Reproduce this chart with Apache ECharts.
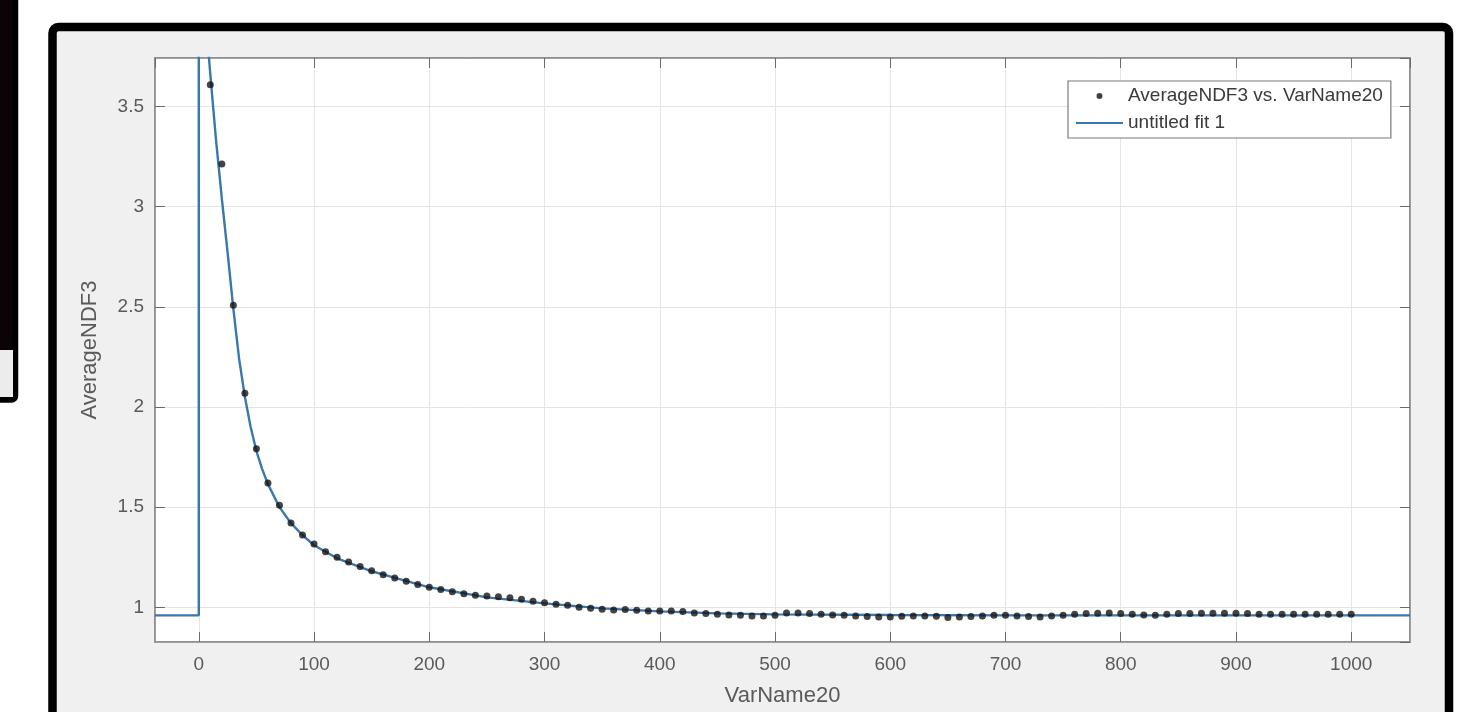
<!DOCTYPE html>
<html>
<head>
<meta charset="utf-8">
<script src="https://cdn.jsdelivr.net/npm/echarts@6/dist/echarts.min.js"></script>
<style>
  html, body { margin: 0; padding: 0; background: #ffffff; }
  #main { width: 1478px; height: 712px; }
</style>
</head>
<body>
<div id="main"></div>
<script>
// ---- data ----
const xLabelName = 'VarName20';
const yLabelName = 'AverageNDF3';
const scatterName = 'AverageNDF3 vs. VarName20';
const fitName = 'untitled fit 1';

const pointX = [10,20,30,40,50,60,70,80,90,100,
  110,120,130,140,150,160,170,180,190,200,
  210,220,230,240,250,260,270,280,290,300,
  310,320,330,340,350,360,370,380,390,400,
  410,420,430,440,450,460,470,480,490,500,
  510,520,530,540,550,560,570,580,590,600,
  610,620,630,640,650,660,670,680,690,700,
  710,720,730,740,750,760,770,780,790,800,
  810,820,830,840,850,860,870,880,890,900,
  910,920,930,940,950,960,970,980,990,1000];

const pointY = [3.609,3.213,2.508,2.069,1.792,1.621,1.509,1.421,1.361,1.316,
  1.278,1.250,1.226,1.204,1.183,1.163,1.147,1.130,1.114,1.100,
  1.089,1.078,1.068,1.060,1.056,1.053,1.048,1.040,1.031,1.023,
  1.015,1.010,1.001,0.995,0.990,0.987,0.989,0.985,0.982,0.982,
  0.982,0.979,0.972,0.969,0.965,0.962,0.960,0.957,0.957,0.960,
  0.972,0.972,0.969,0.965,0.962,0.960,0.957,0.954,0.952,0.952,
  0.956,0.957,0.957,0.955,0.949,0.952,0.954,0.957,0.960,0.960,
  0.957,0.954,0.952,0.957,0.960,0.965,0.969,0.970,0.972,0.969,
  0.965,0.962,0.960,0.965,0.969,0.969,0.970,0.970,0.970,0.970,
  0.969,0.965,0.965,0.965,0.965,0.965,0.965,0.965,0.965,0.965];

const fitX = [-38, 0, 0, 6, 8, 10, 15, 20, 25, 30, 35, 40, 45, 50, 55, 60, 70, 80, 90, 100,
  120, 150, 175, 200, 250, 300, 350, 400, 450, 500, 600, 700, 1051];
const fitY = [0.960, 0.960, 6.0, 6.0, 3.80, 3.66, 3.33, 3.04, 2.77, 2.49, 2.24, 2.05, 1.90, 1.78, 1.69, 1.615, 1.50, 1.42, 1.36, 1.31,
  1.245, 1.18, 1.14, 1.10, 1.05, 1.02, 0.995, 0.98, 0.97, 0.965, 0.962, 0.960, 0.960];

const xMin = -38, xMax = 1051;
const yMin = 0.827, yMax = 3.742;

// ---- build ----
const scatterData = pointX.map((x, i) => [x, pointY[i]]);
const fitData = fitX.map((x, i) => [x, fitY[i]]);

const FONT = "'Liberation Sans', Arial, 'DejaVu Sans', sans-serif";
const axisGray = '#8a8a8a';
const tickGray = '#6a6a6a';
const labelGray = '#5a5a5a';
const gridGray = '#e4e4e4';
const fitColor = '#3a77ad';
const plainNum = v => String(v);

const chart = echarts.init(document.getElementById('main'), null, { renderer: 'canvas' });

const option = {
  animation: false,
  backgroundColor: '#ffffff',
  textStyle: { fontFamily: FONT },
  graphic: {
    elements: [
      { type: 'rect', z: -5, silent: true,
        shape: { x: 52.5, y: 27, width: 1396.5, height: 720, r: 6 },
        style: { fill: '#f0f0f0', stroke: '#000000', lineWidth: 8.5 } },
      { type: 'rect', z: -5, silent: true,
        shape: { x: -20, y: -20, width: 35.5, height: 420, r: 4 },
        style: { fill: '#0b0306', stroke: '#000000', lineWidth: 5.5 } },
      { type: 'rect', z: -4, silent: true,
        shape: { x: -20, y: 350, width: 33, height: 47 },
        style: { fill: '#ececec' } }
    ]
  },
  grid: {
    left: 155, top: 58, right: 68, bottom: 63,
    show: true, backgroundColor: '#ffffff',
    borderColor: axisGray, borderWidth: 1.5
  },
  legend: {
    orient: 'vertical',
    left: 1068, top: 81,
    padding: [5, 8, 5, 8],
    itemWidth: 47, itemHeight: 6, itemGap: 7,
    backgroundColor: '#ffffff',
    borderColor: '#7a7a7a', borderWidth: 1.2,
    textStyle: { fontFamily: FONT, fontSize: 19, color: '#3a3a3a', lineHeight: 20 },
    data: [
      { name: scatterName, icon: 'circle', itemStyle: { color: '#111111' } },
      { name: fitName, icon: 'path://M0,0L47,0L47,2.2L0,2.2Z', itemStyle: { color: fitColor } }
    ]
  },
  xAxis: [
    {
      type: 'value', position: 'bottom', min: xMin, max: xMax, splitNumber: 11,
      name: xLabelName, nameLocation: 'middle', nameGap: 43,
      nameTextStyle: { fontFamily: FONT, fontSize: 22, color: labelGray },
      axisLine: { show: true, onZero: false, lineStyle: { color: axisGray, width: 1.5 } },
      axisTick: { show: true, inside: true, length: 10, lineStyle: { color: tickGray, width: 1 } },
      axisLabel: { showMinLabel: false, showMaxLabel: false, margin: 13, formatter: plainNum,
        fontFamily: FONT, fontSize: 19, color: labelGray },
      splitLine: { show: true, lineStyle: { color: gridGray, width: 1 } }
    },
    {
      type: 'value', position: 'top', min: xMin, max: xMax, splitNumber: 11,
      axisLine: { show: true, onZero: false, lineStyle: { color: axisGray, width: 1.5 } },
      axisTick: { show: true, inside: true, length: 10, lineStyle: { color: tickGray, width: 1 } },
      axisLabel: { show: false },
      splitLine: { show: false }
    }
  ],
  yAxis: [
    {
      type: 'value', position: 'left', min: yMin, max: yMax, splitNumber: 6,
      name: yLabelName, nameLocation: 'middle', nameGap: 54, nameRotate: 90,
      nameTextStyle: { fontFamily: FONT, fontSize: 22, color: labelGray },
      axisLine: { show: true, onZero: false, lineStyle: { color: axisGray, width: 1.5 } },
      axisTick: { show: true, inside: true, length: 10, lineStyle: { color: tickGray, width: 1 } },
      axisLabel: { showMinLabel: false, showMaxLabel: false, margin: 11, formatter: plainNum,
        fontFamily: FONT, fontSize: 19, color: labelGray },
      splitLine: { show: true, lineStyle: { color: gridGray, width: 1 } }
    },
    {
      type: 'value', position: 'right', min: yMin, max: yMax, splitNumber: 6,
      axisLine: { show: true, onZero: false, lineStyle: { color: axisGray, width: 1.5 } },
      axisTick: { show: true, inside: true, length: 10, lineStyle: { color: tickGray, width: 1 } },
      axisLabel: { show: false },
      splitLine: { show: false }
    }
  ],
  series: [
    {
      name: scatterName,
      type: 'scatter',
      xAxisIndex: 0, yAxisIndex: 0,
      data: scatterData,
      symbol: 'circle',
      symbolSize: 7,
      itemStyle: { color: '#151515' },
      z: 4
    },
    {
      name: fitName,
      type: 'line',
      xAxisIndex: 0, yAxisIndex: 0,
      data: fitData,
      showSymbol: false,
      symbol: 'none',
      smooth: false,
      clip: true,
      lineStyle: { color: fitColor, width: 2.4 },
      itemStyle: { color: fitColor },
      z: 3
    }
  ]
};

chart.setOption(option);
</script>
</body>
</html>
